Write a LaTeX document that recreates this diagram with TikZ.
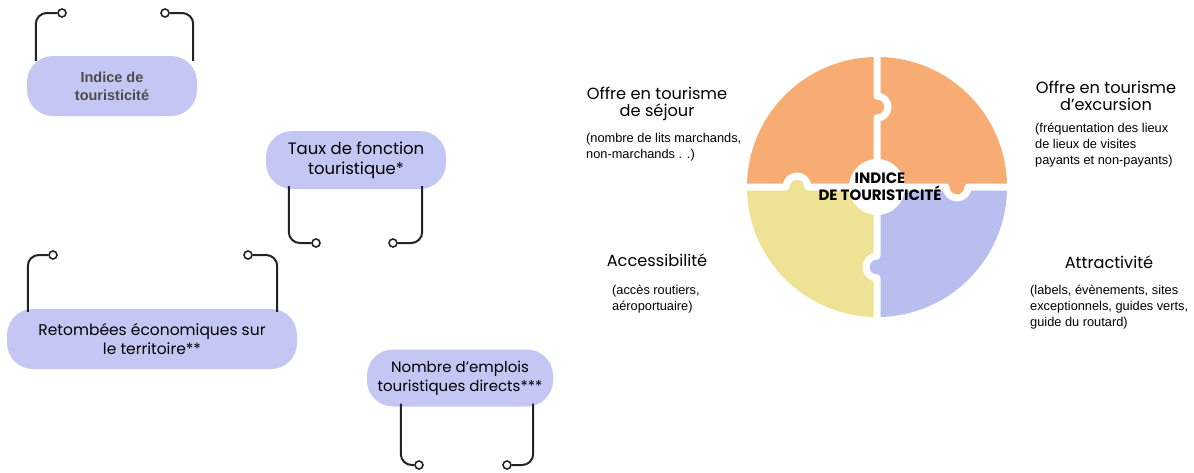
\documentclass[tikz,border=0pt]{standalone}
\usepackage{fontspec}
\setmainfont{Poppins}
\newfontfamily\descfont{Liberation Sans}
\usetikzlibrary{calc}
\definecolor{pillblue}{RGB}{196,199,243}
\definecolor{orangeq}{RGB}{247,172,115}
\definecolor{yellowq}{RGB}{238,226,148}
\definecolor{blueq}{RGB}{184,190,237}
\definecolor{inkline}{RGB}{35,35,35}
\tikzset{
	pill/.style={rounded corners=26pt, fill=pillblue, align=center, inner sep=0pt, font=\fontsize{15}{19}\selectfont},
	bracket/.style={line width=2pt, color=inkline, rounded corners=11pt},
	ring/.style={circle, draw=inkline, line width=1.6pt, fill=white, minimum size=8pt, inner sep=0pt},
	heading/.style={align=center, font=\fontsize{16.2}{17.5}\selectfont},
	desc/.style={align=left, inner sep=0pt, font=\descfont\fontsize{12.8}{16}\selectfont},
	gap/.style={line width=7pt, color=white, line join=round}
}

\begin{document}
\begin{tikzpicture}[x=1pt, y=-1pt]
		%%%%% START %%%%%
		\useasboundingbox (0,0) rectangle (1194,472);
		
		% left part: pills and brackets
		\node[pill, minimum width=170pt, minimum height=60pt, text=black!70, font=\descfont\bfseries\fontsize{14.5}{18}\selectfont] (indice) at (112,86) {Indice de\\touristicité};
		\node[ring] (indiceL) at (62,13) {};
		\node[ring] (indiceR) at (165,13) {};
		\draw[bracket] ([xshift=9pt, yshift=-5pt]indice.north west) |- (indiceL);
		\draw[bracket] ([xshift=-4pt, yshift=-5pt]indice.north east) |- (indiceR);
		
		\node[pill, minimum width=180pt, minimum height=58pt, font=\fontsize{16.5}{20}\selectfont] (taux) at (356,160) {Taux de fonction\\touristique*};
		\node[ring] (tauxL) at (316,243) {};
		\node[ring] (tauxR) at (393,243) {};
		\draw[bracket] ([xshift=23pt, yshift=3pt]taux.south west) |- (tauxL);
		\draw[bracket] ([xshift=-24pt, yshift=3pt]taux.south east) |- (tauxR);
		
		\node[pill, minimum width=290pt, minimum height=60pt, font=\fontsize{15.5}{19}\selectfont] (retombees) at (152,339) {Retombées économiques sur\\le territoire**};
		\node[ring] (retombeesL) at (53,255) {};
		\node[ring] (retombeesR) at (248,255) {};
		\draw[bracket] ([xshift=21pt, yshift=-3pt]retombees.north west) |- (retombeesL);
		\draw[bracket] ([xshift=-20pt, yshift=-3pt]retombees.north east) |- (retombeesR);
		
		\node[pill, minimum width=186pt, minimum height=57pt] (emplois) at (460,378) {Nombre d'emplois\\touristiques directs***};
		\node[ring] (emploisL) at (419,465) {};
		\node[ring] (emploisR) at (507,465) {};
		\draw[bracket] ([xshift=34pt, yshift=3pt]emplois.south west) |- (emploisL);
		\draw[bracket] ([xshift=-20pt, yshift=3pt]emplois.south east) |- (emploisR);
		
		% right part: puzzle circle
		\begin{scope}[shift={(877,187)}]
			\fill[orangeq] (0pt,0pt) -- (90:130pt) arc[start angle=90, end angle=180, radius=130pt] -- cycle;
			\fill[orangeq] (0pt,0pt) -- (0:130pt) arc[start angle=0, end angle=90, radius=130pt] -- cycle;
			\fill[yellowq] (0pt,0pt) -- (180:130pt) arc[start angle=180, end angle=270, radius=130pt] -- cycle;
			\fill[blueq] (0pt,0pt) -- (270:130pt) arc[start angle=270, end angle=360, radius=130pt] -- cycle;
			
			\fill[yellowq] (-69pt,0pt) arc[start angle=0, end angle=180, radius=11pt] -- cycle;
			\fill[orangeq] (69pt,0pt) arc[start angle=180, end angle=360, radius=11pt] -- cycle;
			\fill[blueq] (0pt,-69pt) arc[start angle=90, end angle=270, radius=11pt] -- cycle;
			
			\draw[gap] (0pt,0pt) -- (0pt,69pt) arc[start angle=-90, end angle=90, radius=11pt] -- (0pt,135pt);
			\draw[gap] (0pt,0pt) -- (69pt,0pt) arc[start angle=180, end angle=360, radius=11pt] -- (135pt,0pt);
			\draw[gap] (0pt,0pt) -- (0pt,-69pt) arc[start angle=90, end angle=270, radius=11pt] -- (0pt,-135pt);
			\draw[gap] (0pt,0pt) -- (-69pt,0pt) arc[start angle=0, end angle=180, radius=11pt] -- (-135pt,0pt);
			\fill[white] (0pt,0pt) circle[radius=28pt];
		\end{scope}
		\node[align=center, font=\bfseries\fontsize{15}{17}\selectfont] (core) at (880,187) {INDICE\\DE TOURISTICITÉ};
		
		% labels round the circle
		\node[heading] (sejour) at (657,104) {Offre en tourisme\\de séjour};
		\node[desc, anchor=north west] (sejourD) at (586,133) {(nombre de lits marchands,\\non-marchands . .)};
		
		\node[heading] (excursion) at (1106,96) {Offre en tourisme\\d'excursion};
		\node[desc, anchor=north west] (excursionD) at (1035,123) {(fréquentation des lieux\\de lieux de visites\\payants et non-payants)};
		
		\node[heading] (acces) at (657,260) {Accessibilité};
		\node[desc, anchor=north west] (accesD) at (612,285) {(accès routiers,\\aéroportuaire)};
		
		\node[heading] (attract) at (1109,262) {Attractivité};
		\node[desc, anchor=north west] (attractD) at (1030,285) {(labels, évènements, sites\\exceptionnels, guides verts,\\guide du routard)};
		
		%%%%% END %%%%%
	\end{tikzpicture}
\end{document}
